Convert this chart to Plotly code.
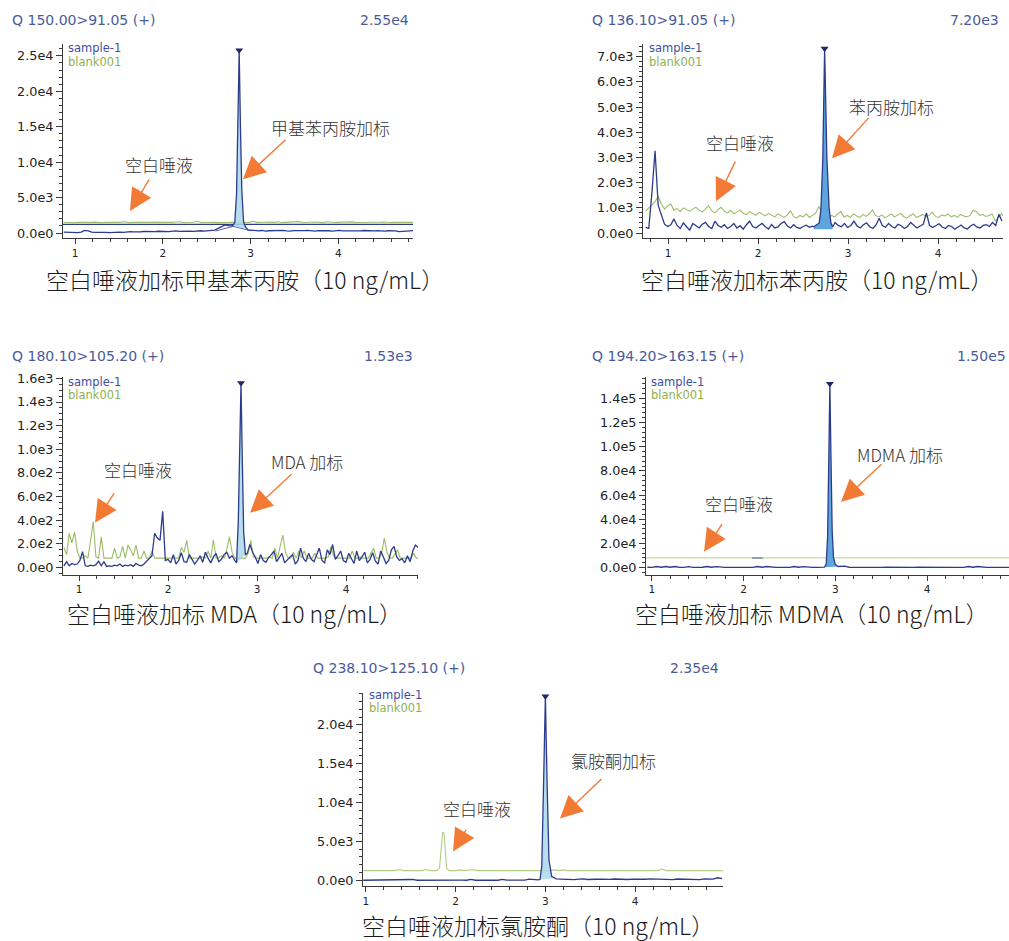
import plotly.graph_objects as go

W, H = 1009, 941

# ---------------------------------------------------------------- text
HEADERS = ["Q 150.00>91.05 (+)", "Q 136.10>91.05 (+)", "Q 180.10>105.20 (+)",
           "Q 194.20>163.15 (+)", "Q 238.10>125.10 (+)"]
MAX_LABELS = ["2.55e4", "7.20e3", "1.53e3", "1.50e5", "2.35e4"]
CAPTIONS = ["空白唾液加标甲基苯丙胺（10 ng/mL）", "空白唾液加标苯丙胺（10 ng/mL）",
            "空白唾液加标 MDA（10 ng/mL）", "空白唾液加标 MDMA（10 ng/mL）",
            "空白唾液加标氯胺酮（10 ng/mL）"]
SPIKE_LABELS = ["甲基苯丙胺加标", "苯丙胺加标", "MDA 加标", "MDMA 加标", "氯胺酮加标"]
BLANK_LABEL = "空白唾液"
SERIES_NAMES = ["sample-1", "blank001"]
X_TICKS = [1, 2, 3, 4]

# ---------------------------------------------------------------- y ticks
P1_YTICKS = [0, 5000, 10000, 15000, 20000, 25000]
P1_YTEXT = ["0.0e0", "5.0e3", "1.0e4", "1.5e4", "2.0e4", "2.5e4"]
P2_YTICKS = [0, 1000, 2000, 3000, 4000, 5000, 6000, 7000]
P2_YTEXT = ["0.0e0", "1.0e3", "2.0e3", "3.0e3", "4.0e3", "5.0e3", "6.0e3", "7.0e3"]
P3_YTICKS = [0, 200, 400, 600, 800, 1000, 1200, 1400, 1600]
P3_YTEXT = ["0.0e0", "2.0e2", "4.0e2", "6.0e2", "8.0e2", "1.0e3", "1.2e3", "1.4e3", "1.6e3"]
P4_YTICKS = [0, 20000, 40000, 60000, 80000, 100000, 120000, 140000]
P4_YTEXT = ["0.0e0", "2.0e4", "4.0e4", "6.0e4", "8.0e4", "1.0e5", "1.2e5", "1.4e5"]
P5_YTICKS = [0, 5000, 10000, 15000, 20000]
P5_YTEXT = ["0.0e0", "5.0e3", "1.0e4", "1.5e4", "2.0e4"]

# ---------------------------------------------------------------- panel 1 : methamphetamine
P1_STEP = 0.04
P1_BLANK_T0 = 0.87
P1_BLANK = [1520, 1480, 1500, 1460, 1510, 1490, 1530, 1470, 1500, 1540, 1480, 1460, 1520, 1500,
            1550, 1480, 1510, 1600, 1490, 1470, 1520, 1500, 1560, 1490, 1470, 1510, 1540, 1480,
            1500, 1520, 1470, 1510, 1550, 1600, 1480, 1510, 1470, 1530, 1690, 1500, 1480, 1520,
            1560, 1500, 1470, 1510, 1540, 1490, 1520, 1470, 1500, 1560, 1480, 1510, 1650, 1500,
            1470, 1520, 1540, 1490, 1510, 1580, 1480, 1500, 1530, 1470, 1500, 1610, 1490, 1520,
            1480, 1510, 1550, 1500, 1470, 1590, 1520, 1490, 1510, 1540, 1480, 1500, 1570, 1510,
            1480, 1520, 1490, 1530, 1500, 1470, 1520, 1560, 1500, 1480, 1510, 1540, 1490, 1500,
            1520, 1510, 1500]
P1_PRE_T0 = 0.87
P1_PRE = [120, 90, 150, 110, 60, 130, 380, 300, 120, 80, 100, 140, 90, 60, 110, 170, 130, 90,
          150, 200, 160, 120, 180, 230, 190, 150, 210, 250, 200, 240, 190, 260, 300, 220, 260,
          310, 270, 230, 290, 320, 280, 300, 340, 420, 650, 900, 1150, 1050, 1000]
P1_PEAK_T = [2.80, 2.82, 2.84, 2.855, 2.87, 2.885, 2.90, 2.92, 2.94, 2.97]
P1_PEAK_V = [1100, 1500, 5500, 14000, 25800, 14500, 6000, 1600, 900, 450]
P1_POST_T0 = 3.01
P1_POST = [380, 330, 300, 360, 280, 320, 350, 290, 330, 370, 300, 260, 340, 310, 280, 350, 380,
           300, 270, 330, 360, 290, 320, 280, 340, 370, 310, 290, 350, 320, 270, 300, 360, 330,
           280, 310, 350, 290, 260, 320, 340, 300, 200, 250, 330, 380, 350]
P1_LEVEL_T = [0.863, 4.85]
P1_LEVEL_V = [1220, 1220]
P1_BASE_T = [2.60, 2.80, 3.01]
P1_BASE_V = [280, 950, 300]

# ---------------------------------------------------------------- panel 2 : amphetamine
P2_STEP = 0.035
P2_BLANK_T0 = 0.751
P2_BLANK = [870, 1000, 1150, 1250, 1450, 1150, 950, 1080, 1150, 900, 980, 850, 1000, 920, 870,
            960, 1020, 900, 840, 950, 1080, 880, 800, 930, 1020, 870, 800, 900, 760, 840, 920,
            780, 730, 850, 760, 700, 820, 740, 680, 780, 700, 640, 760, 690, 620, 720, 880, 650,
            600, 700, 640, 760, 620, 700, 800, 1050, 800, 640, 600, 700, 640, 760, 860, 640, 700,
            620, 760, 680, 620, 730, 660, 760, 920, 700, 640, 720, 600, 680, 760, 640, 700, 780,
            650, 600, 700, 760, 620, 680, 740, 640, 700, 820, 660, 620, 720, 680, 760, 640, 700,
            620, 740, 680, 640, 700, 900, 860, 700, 740, 660, 700, 760, 480, 600, 760, 650]
P2_PRE_T0 = 0.751
P2_PRE = [220, 180, 1600, 3270, 1100, 700, 350, 260, 330, 560, 300, 180, 400, 250, 120, 380,
          300, 200, 350, 420, 260, 180, 470, 300, 230, 330, 180, 260, 380, 200, 290, 150, 330,
          470, 260, 200, 300, 380, 250, 160, 340, 200, 240, 380, 450, 280, 200, 330, 220, 180,
          260, 310, 230, 270]
P2_PEAK_T = [2.62, 2.68, 2.70, 2.72, 2.74, 2.765, 2.79, 2.81, 2.83]
P2_PEAK_V = [250, 400, 1000, 3000, 7330, 3000, 1000, 400, 250]
P2_FILL_BASE = 150
P2_POST_T0 = 2.856
P2_POST = [420, 300, 250, 380, 220, 300, 470, 280, 200, 330, 400, 250, 180, 320, 590, 300, 230,
           380, 260, 200, 350, 290, 180, 260, 420, 310, 200, 280, 350, 800, 300, 220, 280, 370,
           240, 180, 300, 260, 150, 220, 320, 200, 160, 280, 350, 240, 200, 300, 330, 260, 420,
           300, 740, 480]

# ---------------------------------------------------------------- panel 3 : MDA
P3_STEP = 0.03
P3_BLANK_T0 = 0.83
P3_BLANK = [170, 110, 290, 210, 300, 140, 80, 80, 100, 80, 230, 390, 90, 80, 260, 80, 80, 80, 80,
            165, 80, 90, 180, 80, 190, 150, 100, 190, 80, 80, 140, 80, 80, 140, 80, 80, 80, 80,
            80, 80, 80, 80, 80, 80, 170, 130, 230, 80, 80, 80, 80, 80, 90, 80, 140, 80, 235, 80,
            80, 100, 80, 150, 260, 130, 80, 80, 80, 80, 80, 120, 230, 90, 80, 80, 80, 80, 80, 90,
            80, 165, 80, 180, 275, 130, 80, 80, 130, 80, 140, 80, 140, 80, 80, 80, 120, 80, 80,
            80, 80, 90, 175, 100, 80, 80, 80, 80, 80, 80, 140, 80, 80, 90, 80, 80, 80, 120, 165,
            80, 80, 120, 250, 130, 80, 80, 110, 150, 80, 80, 80, 80, 80, 120, 80, 80]
P3_PRE_T0 = 0.83
P3_PRE = [15, 50, 15, 35, 25, 30, 60, 135, 15, 10, 20, 15, 25, 55, 15, 50, 10, 15, 10, 20, 15,
          30, 10, 20, 15, 25, 10, 35, 20, 15, 30, 55, 80, 100, 290, 250, 230, 475, 60, 70, 40,
          110, 30, 60, 125, 50, 45, 110, 70, 30, 60, 100, 45, 130, 80, 40, 90, 120, 50, 70, 110,
          130, 80, 100, 60]
P3_PEAK_T = [2.77, 2.79, 2.805, 2.82, 2.835, 2.85, 2.87]
P3_PEAK_V = [40, 400, 1000, 1560, 900, 300, 110]
P3_POST_T0 = 2.89
P3_POST = [120, 195, 130, 90, 35, 110, 60, 45, 85, 110, 140, 50, 90, 120, 40, 70, 90, 110, 30,
           60, 165, 80, 50, 120, 70, 50, 100, 165, 60, 40, 150, 110, 195, 70, 100, 140, 60, 45,
           120, 80, 35, 140, 60, 90, 130, 40, 70, 125, 55, 30, 140, 90, 35, 60, 150, 180, 90,
           60, 75, 40, 100, 50, 140, 190, 170]

# ---------------------------------------------------------------- panel 4 : MDMA
P4_STEP = 0.05
P4_BLANK_T = [0.935, 4.893]
P4_BLANK_V = [8000, 8000]
P4_MARK_T = [2.09, 2.21]
P4_MARK_V = [8000, 8000]
P4_PRE_T0 = 0.95
P4_PRE = [300, 200, 900, 300, 900, 300, 900, 200, 200, 800, 200, 200, 300, 900, 300, 800, 200,
          200, 200, 200, 200, 300, 200, 200, 900, 300, 900, 300, 200, 200, 200, 200, 900, 300,
          800, 200, 200, 200, 300]
P4_PEAK_T = [2.88, 2.90, 2.915, 2.93, 2.94, 2.95, 2.965, 2.98, 3.00, 3.03]
P4_PEAK_V = [300, 3000, 25000, 100000, 152000, 100000, 30000, 8000, 2500, 900]
P4_POST_T0 = 3.05
P4_POST = [900, 1200, 300, 200, 200, 300, 200, 200, 200, 200, 300, 200, 200, 200, 200, 200, 200,
           300, 200, 200, 200, 200, 200, 200, 200, 200, 200, 200, 900, 300, 900, 300, 200, 200,
           200, 200, 200, 200]

# ---------------------------------------------------------------- panel 5 : ketamine
P5_STEP = 0.05
P5_BLANK_PRE_T0 = 0.97
P5_BLANK_PRE = [1240, 1240, 1240, 1240, 1240, 1240, 1240, 1240, 1380, 1240, 1240, 1240, 1300,
                1240, 1380, 1240, 1240]
P5_BLANK_PEAK_T = [1.79, 1.82, 1.84, 1.855, 1.87, 1.885, 1.90, 1.93]
P5_BLANK_PEAK_V = [1240, 1600, 4300, 6200, 6050, 3600, 1500, 1240]
P5_BLANK_POST_T0 = 1.95
P5_BLANK_POST = [1240, 1240, 1340, 1240, 1330, 1340, 1240, 1240, 1240, 1240, 1240, 1240, 1330,
                 1240, 1240, 1240, 1240, 1240, 1240, 1240, 1240, 1240, 1240, 1340, 1240, 1340,
                 1240, 1240, 1240, 1240, 1240, 1240, 1240, 1240, 1320, 1240, 1240, 1240, 1240,
                 1240, 1240, 1240, 1240, 1320, 1240, 1240, 1240, 1450, 1240, 1240, 1240, 1240,
                 1240, 1240, 1240, 1330, 1240, 1240, 1240, 1240, 1240, 1240]
P5_PRE_T0 = 0.97
P5_PRE = [0, 10, 0, 20, 0, 10, 0, 0, 20, 0, 10, 100, 0, 10, 0, 20, 0, 10, 0, 20, 0, 90, 10, 0,
          100, 0, 20, 0, 10, 0, 0, 110, 20, 0, 10, 0, 20, 150, 60, 40]
P5_PEAK_T = [2.94, 2.96, 2.98, 3.00, 3.02, 3.04, 3.07, 3.10]
P5_PEAK_V = [100, 1800, 12500, 23700, 12000, 2600, 500, 250]
P5_POST_T0 = 3.12
P5_POST = [180, 150, 120, 160, 90, 140, 170, 100, 80, 130, 150, 90, 110, 160, 140, 80, 100, 150,
           120, 90, 130, 170, 150, 100, 120, 140, 90, 160, 130, 100, 150, 120, 90, 180, 200, 150,
           320, 220]

# ---------------------------------------------------------------- styling
BLUE = "#2c3b8c"
GREEN = "#9dbb66"
GREEN_PALE = "#c9d9a4"
FILL_LIGHT = "rgba(170,215,235,0.85)"
FILL_STRONG = "#5ea4dd"
MARK = "#1d2766"
ORANGE = "#f27a35"
AXIS = "#3a3a3a"
HEAD = "#4a5b9c"
LAT = "DejaVu Sans, Verdana, sans-serif"
CJK = "Noto Sans CJK SC, Noto Sans, sans-serif"


def times(t0, step, vals):
    return [round(t0 + step * i, 4) for i in range(len(vals))]


def joined(pre_t0, pre, peak_t, peak_v, post_t0, post, step):
    x = times(pre_t0, step, pre) + list(peak_t) + times(post_t0, step, post)
    y = list(pre) + list(peak_v) + list(post)
    return x, y


def px(x):
    return x / W


def py(y):
    # pixel row -> paper fraction (rows measured from the top of the page)
    return 1 - (y - 5) / (H - 5)


# layout boxes (pixel edges) and data ranges for the five chromatograms
panels = [
    dict(box=(63, 413, 42, 237), xr=(0.863, 4.85), yr=(-702, 26690), yt=P1_YTICKS, ytx=P1_YTEXT,
         ydm=1000, head=(10, 411, 18), leg=(66, 46.5, 60), fill=FILL_LIGHT,
         blank=(times(P1_BLANK_T0, P1_STEP, P1_BLANK), P1_BLANK), green=GREEN,
         sample=joined(P1_PRE_T0, P1_PRE, P1_PEAK_T, P1_PEAK_V, P1_POST_T0, P1_POST, P1_STEP),
         fillxy=(P1_PEAK_T, P1_PEAK_V),
         arrows=[((150, 177), (130, 210)), ((287, 137), (243, 178))],
         labels=[(159, 163), (330, 126)], caption=(245, 278)),
    dict(box=(643, 1003, 42, 237), xr=(0.722, 4.722), yr=(-198, 7514), yt=P2_YTICKS, ytx=P2_YTEXT,
         ydm=200, head=(590, 1001, 18), leg=(647, 46.5, 60), fill=FILL_STRONG,
         blank=(times(P2_BLANK_T0, P2_STEP, P2_BLANK), P2_BLANK), green=GREEN,
         sample=joined(P2_PRE_T0, P2_PRE, P2_PEAK_T, P2_PEAK_V, P2_POST_T0, P2_POST, P2_STEP),
         fillxy=([P2_PEAK_T[0]] + P2_PEAK_T + [P2_PEAK_T[-1]],
                 [P2_FILL_BASE] + P2_PEAK_V + [P2_FILL_BASE]),
         arrows=[((736, 159), (716, 200)), ((870, 115), (832, 157))],
         labels=[(740, 141), (891, 105)], caption=(817, 278)),
    dict(box=(63, 418, 377, 575), xr=(0.82, 4.809), yr=(-59, 1608), yt=P3_YTICKS, ytx=P3_YTEXT,
         ydm=50, head=(10, 415, 355), leg=(66, 381.5, 395), fill=FILL_LIGHT,
         blank=(times(P3_BLANK_T0, P3_STEP, P3_BLANK), P3_BLANK), green=GREEN,
         sample=joined(P3_PRE_T0, P3_PRE, P3_PEAK_T, P3_PEAK_V, P3_POST_T0, P3_POST, P3_STEP),
         fillxy=(P3_PEAK_T, P3_PEAK_V),
         arrows=[((115, 492), (95, 523)), ((293, 473), (250, 513))],
         labels=[(138, 469), (307, 461)], caption=(234, 614)),
    dict(box=(646, 1009, 377, 575), xr=(0.935, 4.893), yr=(-5765, 157290), yt=P4_YTICKS,
         ytx=P4_YTEXT, ydm=4000, head=(590, 1008, 355), leg=(649, 381.5, 395), fill=FILL_STRONG,
         blank=(P4_BLANK_T, P4_BLANK_V), green=GREEN_PALE,
         sample=joined(P4_PRE_T0, P4_PRE, P4_PEAK_T, P4_PEAK_V, P4_POST_T0, P4_POST, P4_STEP),
         fillxy=(P4_PEAK_T, P4_PEAK_V),
         arrows=[((723, 523), (704, 552)), ((883, 463), (841, 502))],
         labels=[(739, 504), (900, 454)], caption=(811, 614)),
    dict(box=(363, 723, 694, 888), xr=(0.967, 4.98), yr=(-769, 24100), yt=P5_YTICKS, ytx=P5_YTEXT,
         ydm=1000, head=(311, 721, 669), leg=(367, 695.5, 709), fill=FILL_LIGHT,
         blank=joined(P5_BLANK_PRE_T0, P5_BLANK_PRE, P5_BLANK_PEAK_T, P5_BLANK_PEAK_V,
                      P5_BLANK_POST_T0, P5_BLANK_POST, P5_STEP), green="#b3cc85",
         sample=joined(P5_PRE_T0, P5_PRE, P5_PEAK_T, P5_PEAK_V, P5_POST_T0, P5_POST, P5_STEP),
         fillxy=(P5_PEAK_T, P5_PEAK_V),
         arrows=[((467, 830), (453, 853)), ((603, 779), (560, 820))],
         labels=[(477, 810), (613, 762)], caption=(538, 927)),
]

fig = go.Figure()
annotations = []
layout_axes = {}

for i, p in enumerate(panels):
    n = "" if i == 0 else str(i + 1)
    xa, ya = "x" + n, "y" + n
    x0, x1, y0, y1 = p["box"]

    # blank injection
    fig.add_trace(go.Scatter(x=p["blank"][0], y=p["blank"][1], xaxis=xa, yaxis=ya, mode="lines",
                             line=dict(color=p["green"], width=1.1), hoverinfo="skip"))
    if i == 0:
        fig.add_trace(go.Scatter(x=P1_LEVEL_T, y=P1_LEVEL_V, xaxis=xa, yaxis=ya, mode="lines",
                                 line=dict(color=BLUE, width=1.1), hoverinfo="skip"))
        fig.add_trace(go.Scatter(x=P1_BASE_T, y=P1_BASE_V, xaxis=xa, yaxis=ya, mode="lines",
                                 line=dict(color="#4a63b0", width=1), hoverinfo="skip"))
    if i == 3:
        fig.add_trace(go.Scatter(x=P4_MARK_T, y=P4_MARK_V, xaxis=xa, yaxis=ya, mode="lines",
                                 line=dict(color="#8ea4a8", width=2), hoverinfo="skip"))

    # integrated peak area
    fig.add_trace(go.Scatter(x=p["fillxy"][0], y=p["fillxy"][1], xaxis=xa, yaxis=ya, mode="lines",
                             fill="toself", fillcolor=p["fill"], line=dict(width=0),
                             hoverinfo="skip"))
    # spiked sample
    fig.add_trace(go.Scatter(x=p["sample"][0], y=p["sample"][1], xaxis=xa, yaxis=ya, mode="lines",
                             line=dict(color=BLUE, width=1.3), hoverinfo="skip"))
    # apex marker
    sy = p["sample"][1]
    k = sy.index(max(sy))
    fig.add_trace(go.Scatter(x=[p["sample"][0][k]], y=[sy[k]], xaxis=xa, yaxis=ya, mode="markers",
                             marker=dict(symbol="triangle-down", size=7, color=MARK),
                             hoverinfo="skip"))

    layout_axes["xaxis" + n] = dict(
        domain=[px(x0), px(x1)], range=list(p["xr"]), anchor=ya, showline=True, linecolor=AXIS,
        linewidth=1, ticks="outside", ticklen=5, tickcolor=AXIS, tickmode="array",
        tickvals=X_TICKS, ticktext=[str(v) for v in X_TICKS],
        tickfont=dict(family=LAT, size=10.5, color="#222"),
        minor=dict(ticks="outside", ticklen=3, tickcolor=AXIS, tickmode="linear", tick0=0,
                   dtick=0.2),
        showgrid=False, zeroline=False, fixedrange=True)
    layout_axes["yaxis" + n] = dict(
        domain=[py(y1), py(y0)], range=list(p["yr"]), anchor=xa, showline=True, linecolor=AXIS,
        linewidth=1, ticks="outside", ticklen=6, tickcolor=AXIS, tickmode="array",
        tickvals=p["yt"], ticktext=p["ytx"], tickfont=dict(family=LAT, size=12.8, color="#222"),
        minor=dict(ticks="outside", ticklen=3, tickcolor=AXIS, tickmode="linear", tick0=0,
                   dtick=p["ydm"]),
        showgrid=False, zeroline=False, fixedrange=True)

    # header line
    hx, hr, hy = p["head"]
    hfont = dict(family=LAT, size=14, color=HEAD)
    annotations.append(dict(x=px(hx), y=py(hy), xref="paper", yref="paper", text=HEADERS[i],
                            xanchor="left", yanchor="middle", showarrow=False, font=hfont))
    annotations.append(dict(x=px(hr), y=py(hy), xref="paper", yref="paper",
                            text=MAX_LABELS[i], xanchor="right", yanchor="middle",
                            showarrow=False, font=hfont))
    # in-plot series names
    lx, ly1, ly2 = p["leg"]
    annotations.append(dict(x=px(lx), y=py(ly1), xref="paper", yref="paper", text=SERIES_NAMES[0],
                            xanchor="left", yanchor="middle", showarrow=False,
                            font=dict(family=LAT, size=11.5, color="#3d4f9e")))
    annotations.append(dict(x=px(lx), y=py(ly2), xref="paper", yref="paper", text=SERIES_NAMES[1],
                            xanchor="left", yanchor="middle", showarrow=False,
                            font=dict(family=LAT, size=11.5, color="#8fb04f")))
    # arrows and their labels
    for (tail, tip) in p["arrows"]:
        annotations.append(dict(x=px(tip[0]), y=py(tip[1]), xref="paper", yref="paper", text="",
                                showarrow=True, axref="pixel", ayref="pixel",
                                ax=tail[0] - tip[0], ay=tail[1] - tip[1], arrowhead=2,
                                arrowsize=3.2, arrowwidth=1.4, arrowcolor=ORANGE))
    for txt, (cx, cy) in zip([BLANK_LABEL, SPIKE_LABELS[i]], p["labels"]):
        annotations.append(dict(x=px(cx), y=py(cy), xref="paper", yref="paper", text=txt,
                                xanchor="center", yanchor="middle", showarrow=False,
                                font=dict(family=CJK, size=17, color="#333", weight=300)))
    # caption
    cx, cy = p["caption"]
    annotations.append(dict(x=px(cx), y=py(cy), xref="paper", yref="paper", text=CAPTIONS[i],
                            xanchor="center", yanchor="middle", showarrow=False,
                            font=dict(family=CJK, size=23, color="#1a1a1a", weight=300)))

fig.update_layout(
    width=W, height=H, autosize=False, margin=dict(l=0, r=0, t=0, b=0),
    paper_bgcolor="white", plot_bgcolor="white", showlegend=False,
    font=dict(family=LAT, color="#222"), annotations=annotations, **layout_axes)

fig.write_html("out.html", config={"displayModeBar": False, "staticPlot": True})
